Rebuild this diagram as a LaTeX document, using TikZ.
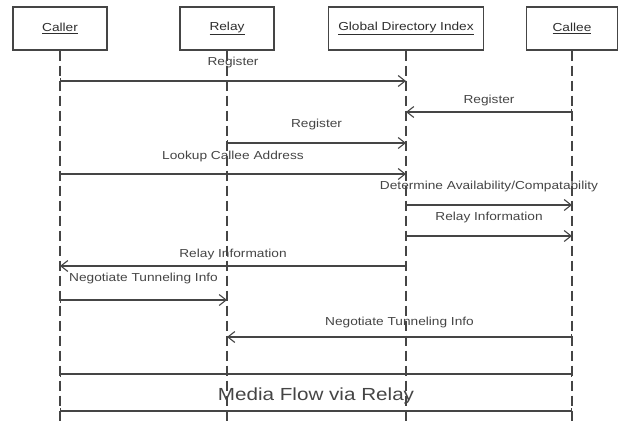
\documentclass[tikz,border=0pt]{standalone}
\usepackage{fontspec}
\setmainfont{Liberation Sans}[FakeStretch=1.18]
\usetikzlibrary{arrows.meta}
\definecolor{linegray}{HTML}{454545}
\definecolor{textgray}{HTML}{2E2E2E}

\begin{document}
\begin{tikzpicture}[x=1pt,y=-1pt,
  font=\fontsize{11.6}{13}\selectfont,text=textgray]
 \tikzstyle{actor} = [draw=linegray,line width=1.1pt,minimum width=94pt,minimum height=43pt,inner sep=0]
 \tikzstyle{lifeline} = [linegray,line width=1.1pt,dash pattern=on 10pt off 5pt]
 \tikzstyle{msg} = [linegray,line width=1.1pt,arrows={Bar[width=6pt]-Straight Barb[length=7pt,width=11pt]}]
 \tikzstyle{flow} = [linegray,line width=1.1pt,arrows={Bar[width=6pt]-Bar[width=6pt]}]
 \tikzstyle{lbl} = [midway,inner sep=0]

 \useasboundingbox (0,0) rectangle (618,423);

% Participants
 \node[actor] (caller) at (60,28.5) {\underline{Caller}};
 \node[actor] (relay) at (227,28.5) {\underline{Relay}};
 \node[actor,minimum width=155pt] (gdi) at (406,28.5) {\underline{Global Directory Index}};
 \node[actor,minimum width=91pt] (callee) at (572,28.5) {\underline{Callee}};

% Lifelines
 \coordinate (bottom) at (0,423);
 \draw[lifeline] (caller.south) -- (caller |- bottom);
 \draw[lifeline] (relay.south) -- (relay |- bottom);
 \draw[lifeline] (gdi.south) -- (gdi |- bottom);
 \draw[lifeline] (callee.south) -- (callee |- bottom);

% Message rows
 \coordinate (m1) at (0,81);
 \coordinate (m2) at (0,112);
 \coordinate (m3) at (0,143);
 \coordinate (m4) at (0,174);
 \coordinate (m5) at (0,205);
 \coordinate (m6) at (0,236);
 \coordinate (m7) at (0,266);
 \coordinate (m8) at (0,300);
 \coordinate (m9) at (0,337);
 \coordinate (f1) at (0,374);
 \coordinate (f2) at (0,411);

% Registration
 \draw[msg] (caller |- m1) -- node[lbl,yshift=18pt] {Register} (gdi |- m1);
 \draw[msg] (callee |- m2) -- node[lbl,yshift=12pt] {Register} (gdi |- m2);
 \draw[msg] (relay |- m3) -- node[lbl,yshift=19pt] {Register} (gdi |- m3);

% Lookup
 \draw[msg] (caller |- m4) -- node[lbl,yshift=18pt] {Lookup Callee Address} (gdi |- m4);
 \draw[msg] (gdi |- m5) -- node[lbl,yshift=19pt] {Determine Availability/Compatability} (callee |- m5);
 \draw[msg] (gdi |- m6) -- node[lbl,yshift=19pt] {Relay Information} (callee |- m6);
 \draw[msg] (gdi |- m7) -- node[lbl,yshift=12pt] {Relay Information} (caller |- m7);

% Tunneling
 \draw[msg] (caller |- m8) -- node[lbl,yshift=22pt] {Negotiate Tunneling Info} (relay |- m8);
 \draw[msg] (callee |- m9) -- node[lbl,yshift=15pt] {Negotiate Tunneling Info} (relay |- m9);

% Media
 \draw[flow] (caller |- f1) -- (callee |- f1);
 \draw[flow] (caller |- f2) -- node[lbl,yshift=15.5pt,font=\fontsize{17.5}{20}\selectfont] {Media Flow via Relay} (callee |- f2);
\end{tikzpicture}
\end{document}
